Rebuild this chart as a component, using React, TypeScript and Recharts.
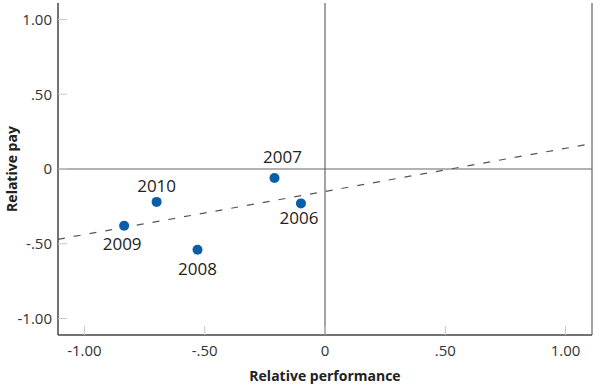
import {
  ScatterChart,
  Scatter,
  XAxis,
  YAxis,
  ReferenceLine,
} from "recharts";

// values
const YEARS = ["2006", "2007", "2008", "2009", "2010"];
const PERFORMANCE = [-0.1, -0.21, -0.53, -0.835, -0.7];
const PAY = [-0.23, -0.06, -0.54, -0.38, -0.22];

const AXIS_TICKS = [-1, -0.5, 0, 0.5, 1];
const AXIS_DOMAIN: [number, number] = [-1.11, 1.11];

// fitted trend line, ends taken at the plot edges
const TREND_X = [-1.11, 1.11];
const TREND_Y = [-0.47, 0.17];

const LABEL_PLACE: Record<string, { dx: number; dy: number }> = {
  "2006": { dx: -2, dy: 21 },
  "2007": { dx: 8, dy: -15 },
  "2008": { dx: 0, dy: 25 },
  "2009": { dx: -2, dy: 24 },
  "2010": { dx: 0, dy: -10 },
};

const FONT = "'Open Sans', sans-serif";
const DOT = "#0a5ea8";

const data = YEARS.map((year, i) => ({
  year,
  perf: PERFORMANCE[i],
  pay: PAY[i],
}));

function fmt(v: number): string {
  if (v === 0) return "0";
  return v.toFixed(2).replace(/^(-?)0\./, "$1.");
}

function YearDot(props: any) {
  const { cx, cy, payload } = props;
  const place = LABEL_PLACE[payload.year] ?? { dx: 0, dy: -10 };
  return (
    <g>
      <circle cx={cx} cy={cy} r={5} fill={DOT} />
      <text
        x={cx + place.dx}
        y={cy + place.dy}
        textAnchor="middle"
        fontSize={17}
        fontFamily={FONT}
        fill="#222"
      >
        {payload.year}
      </text>
    </g>
  );
}

export default function App() {
  return (
    <div style={{ position: "absolute", left: 0, top: 0, fontFamily: FONT }}>
      <ScatterChart
        width={593}
        height={386}
        margin={{ top: 3, right: 1, left: 0, bottom: 0 }}
      >
        <XAxis
          type="number"
          dataKey="perf"
          domain={AXIS_DOMAIN}
          ticks={AXIS_TICKS}
          allowDataOverflow
          height={51}
          tickFormatter={fmt}
          tickSize={-9}
          tickMargin={19}
          tick={{ fontSize: 15, fill: "#333", fontFamily: FONT }}
          tickLine={{ stroke: "#c8c8c8" }}
          axisLine={{ stroke: "#444", strokeWidth: 1.5 }}
          label={{
            value: "Relative performance",
            position: "insideBottom",
            offset: 5,
            style: { fontSize: 14, fontWeight: 700, fill: "#222", fontFamily: FONT },
          }}
        />
        <YAxis
          type="number"
          dataKey="pay"
          domain={AXIS_DOMAIN}
          ticks={AXIS_TICKS}
          allowDataOverflow
          width={58}
          tickFormatter={fmt}
          tickSize={-9}
          tickMargin={15}
          tick={{ fontSize: 15, fill: "#333", fontFamily: FONT }}
          tickLine={{ stroke: "#c8c8c8" }}
          axisLine={{ stroke: "#444", strokeWidth: 1.5 }}
          label={{
            value: "Relative pay",
            angle: -90,
            position: "insideLeft",
            offset: 0,
            dx: 12,
            style: {
              textAnchor: "middle",
              fontSize: 14,
              fontWeight: 700,
              fill: "#222",
              fontFamily: FONT,
            },
          }}
        />
        <ReferenceLine x={0} stroke="#666" strokeWidth={1.2} />
        <ReferenceLine y={0} stroke="#666" strokeWidth={1.2} />
        <ReferenceLine x={AXIS_DOMAIN[1]} stroke="#666" strokeWidth={1.2} />
        <ReferenceLine
          segment={[
            { x: TREND_X[0], y: TREND_Y[0] },
            { x: TREND_X[1], y: TREND_Y[1] },
          ]}
          stroke="#555"
          strokeWidth={1.2}
          strokeDasharray="7 9"
        />
        <Scatter
          data={data}
          shape={<YearDot />}
          isAnimationActive={false}
        />
      </ScatterChart>
    </div>
  );
}
